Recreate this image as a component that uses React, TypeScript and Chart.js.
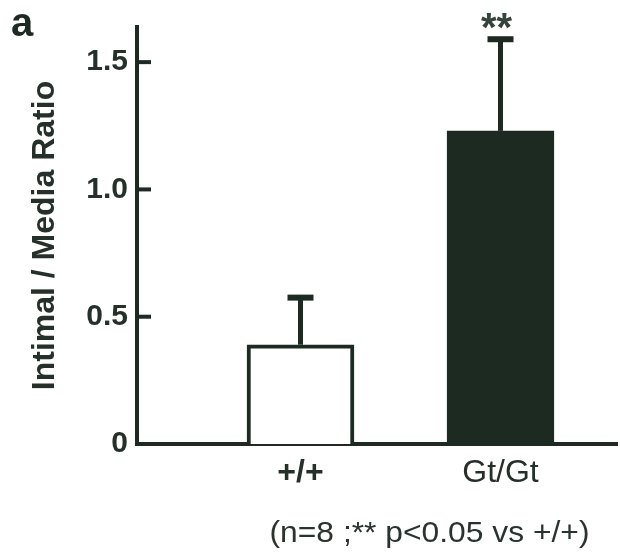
import React, { useEffect, useRef } from "react";
import { Chart, registerables } from "chart.js";

Chart.register(...registerables);

const categories = ["+/+", "Gt/Gt"];
const means = [0.39, 1.23];
const errorTops = [0.575, 1.59];
const yTickValues = [0, 0.5, 1.0, 1.5];
const significance = ["", "**"];
const footnote = "(n=8 ;** p<0.05 vs +/+)";
const panelLetter = "a";
const yTitle = "Intimal / Media Ratio";

const DARK = "#1d2a22";
const FONT = "'Liberation Sans', Arial, Helvetica, sans-serif";

const decorPlugin = {
  id: "decor",
  afterDatasetsDraw(chart: any) {
    const { ctx, scales, chartArea } = chart;
    const xs = scales.x;
    const ys = scales.y;
    ctx.save();
    // inward y ticks
    ctx.strokeStyle = DARK;
    ctx.lineWidth = 4;
    ctx.lineCap = "butt";
    yTickValues.forEach((v) => {
      if (v === 0) return;
      const py = ys.getPixelForValue(v);
      ctx.beginPath();
      ctx.moveTo(chartArea.left, py);
      ctx.lineTo(chartArea.left + 14, py);
      ctx.stroke();
    });
    // error bars
    categories.forEach((_, i) => {
      const cx = xs.getPixelForValue(i + 1);
      const yb = ys.getPixelForValue(means[i]);
      const yt = ys.getPixelForValue(errorTops[i]);
      ctx.strokeStyle = DARK;
      ctx.lineWidth = 5;
      ctx.beginPath();
      ctx.moveTo(cx, yb);
      ctx.lineTo(cx, yt);
      ctx.stroke();
      ctx.lineWidth = 6;
      ctx.beginPath();
      ctx.moveTo(cx - 13, yt);
      ctx.lineTo(cx + 13, yt);
      ctx.stroke();
      if (significance[i]) {
        ctx.fillStyle = "#34443c";
        ctx.font = `bold 40px ${FONT}`;
        ctx.textAlign = "center";
        ctx.textBaseline = "alphabetic";
        ctx.fillText(significance[i], cx - 4, yt + 2);
      }
    });
    // panel letter
    ctx.fillStyle = DARK;
    ctx.font = `bold 40px ${FONT}`;
    ctx.textAlign = "left";
    ctx.textBaseline = "alphabetic";
    ctx.fillText(panelLetter, 11, 36);
    // footnote
    ctx.font = `30px ${FONT}`;
    ctx.fillStyle = "#2a332e";
    ctx.textAlign = "center";
    const fx = (xs.getPixelForValue(1) + xs.getPixelForValue(2)) / 2 + 29;
    ctx.translate(fx, 542);
    ctx.scale(1.06, 1);
    ctx.fillText(footnote, 0, 0);
    ctx.restore();
  },
};

export default function App() {
  const ref = useRef<HTMLCanvasElement>(null);
  useEffect(() => {
    document.body.style.margin = "0";
    const canvas = ref.current!;
    const chart = new Chart(canvas, {
      type: "bar",
      data: {
        datasets: [
          {
            data: categories.map((c, i) => ({ x: i + 1, y: means[i] })),
            backgroundColor: ["#ffffff", DARK],
            borderColor: DARK,
            borderWidth: 4,
            borderSkipped: "start",
            barThickness: 107,
          } as any,
        ],
      },
      options: {
        animation: false,
        responsive: false,
        devicePixelRatio: 1,
        layout: { padding: { top: 27, right: 3, left: 0, bottom: 0 } },
        plugins: { legend: { display: false }, tooltip: { enabled: false } },
        scales: {
          x: {
            type: "linear",
            offset: false,
            min: 0.1825,
            max: 2.5825,
            grid: { display: false, drawTicks: false, offset: false },
            border: { display: true, color: DARK, width: 4 },
            afterBuildTicks: (s: any) => {
              s.ticks = categories.map((_, i) => ({ value: i + 1 }));
            },
            afterFit: (s: any) => {
              s.height = 110;
            },
            ticks: {
              padding: 10,
              color: "#26302a",
              font: (ctx: any) =>
                ctx.index === 0
                  ? { family: FONT, size: 32, weight: "bold" }
                  : { family: FONT, size: 32, weight: "normal" },
              callback: (v: any) => categories[Number(v) - 1] ?? "",
            },
          },
          y: {
            min: 0,
            max: 1.638,
            grid: { display: false, drawTicks: false },
            border: { display: true, color: DARK, width: 4 },
            afterBuildTicks: (s: any) => {
              s.ticks = yTickValues.map((v) => ({ value: v }));
            },
            afterFit: (s: any) => {
              s.width = 137;
            },
            ticks: {
              padding: 9,
              color: "#26302a",
              font: { family: FONT, size: 30, weight: "bold" },
              callback: (v: any) => (Number(v) === 0 ? "0" : Number(v).toFixed(1)),
            },
            title: {
              display: true,
              text: yTitle,
              color: "#26302a",
              font: { family: FONT, size: 32, weight: "bold" },
              padding: { top: 26, bottom: 0 },
            },
          },
        },
      },
      plugins: [decorPlugin],
    });
    return () => chart.destroy();
  }, []);
  return (
    <div style={{ position: "fixed", left: 0, top: 0, width: 620, height: 554, background: "#fff" }}>
      <canvas ref={ref} width={620} height={554} style={{ width: 620, height: 554 }} />
    </div>
  );
}
